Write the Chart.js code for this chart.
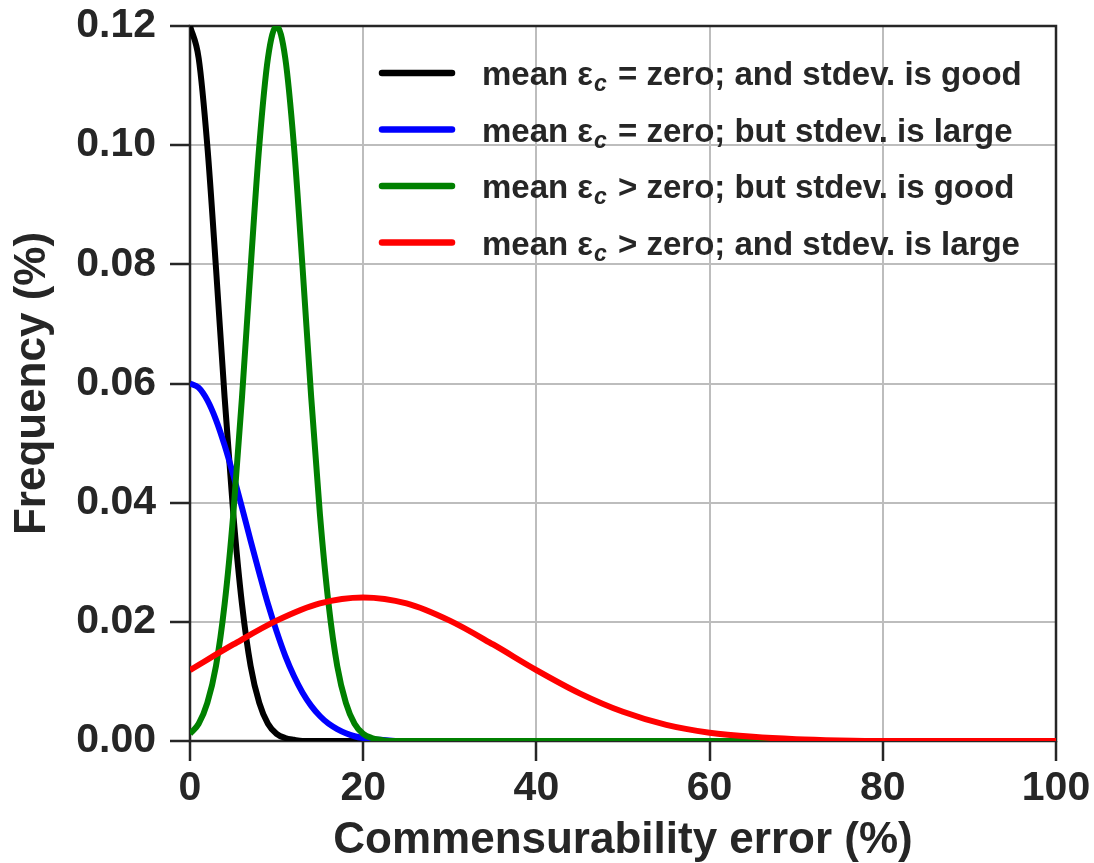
<!DOCTYPE html>
<html>
<head>
<meta charset="utf-8">
<script src="https://cdn.jsdelivr.net/npm/chart.js@4.4.1/dist/chart.umd.min.js"></script>
<style>
  html, body { margin: 0; padding: 0; background: #fff; }
  canvas { display: block; }
</style>
</head>
<body>
<canvas id="errChart" width="1094" height="863"></canvas>
<script>
// Distributions of the commensurability error
// ------------------------------

// x grid shared by the three narrow curves
var gridX = [0, 1, 2, 3, 4, 5, 6, 7, 8, 9, 10, 11, 12, 13, 14, 15, 16, 17, 18, 19,
             20, 21, 22, 23, 24, 25, 30, 40, 50, 60, 70, 80, 90, 100];

var blackY = [0.1200, 0.1146, 0.0999, 0.0794, 0.0576, 0.0381, 0.0230, 0.0126, 0.0064, 0.0029,
              0.0012, 0.0005, 0.0002, 0.0000, 0, 0, 0, 0, 0, 0,
              0, 0, 0, 0, 0, 0, 0, 0, 0, 0, 0, 0, 0, 0];

var blueY = [0.0600, 0.0593, 0.0572, 0.0539, 0.0496, 0.0446, 0.0392, 0.0336, 0.0282, 0.0230,
             0.0184, 0.0143, 0.0109, 0.0081, 0.0059, 0.0042, 0.0029, 0.0020, 0.0013, 0.0008,
             0.0005, 0.0003, 0.0002, 0.0001, 0, 0, 0, 0, 0, 0, 0, 0, 0, 0];

var greenY = [0.0012, 0.0029, 0.0064, 0.0126, 0.0230, 0.0381, 0.0576, 0.0794, 0.0999, 0.1146,
              0.1200, 0.1146, 0.0999, 0.0794, 0.0576, 0.0381, 0.0230, 0.0126, 0.0064, 0.0029,
              0.0012, 0.0005, 0.0002, 0.0000, 0, 0, 0, 0, 0, 0, 0, 0, 0, 0];

// the wide curve is read on a coarser grid
var redX = [0, 5, 10, 15, 20, 25, 30, 35, 40, 45, 50, 55, 60, 65, 70, 75, 80, 85, 90, 95, 100];
var redY = [0.0119, 0.0162, 0.0202, 0.0231, 0.0241, 0.0231, 0.0202, 0.0162, 0.0119, 0.0080,
            0.0049, 0.0027, 0.0014, 0.0007, 0.0003, 0.0001, 0, 0, 0, 0, 0];

var xTicks = [0, 20, 40, 60, 80, 100];
var yTicks = [0.00, 0.02, 0.04, 0.06, 0.08, 0.10, 0.12];

// "_c" marks the subscript
var seriesLabels = [
    "mean \u03b5_c = zero; and stdev. is good",
    "mean \u03b5_c = zero; but stdev. is large",
    "mean \u03b5_c > zero; but stdev. is good",
    "mean \u03b5_c > zero; and stdev. is large"
];
var seriesColors = ['#000000', '#0000ff', '#008000', '#ff0000'];

var FONT = '"Liberation Sans", Arial, sans-serif';
var INK = '#262626';

function pairs(xs, ys) {
    return xs.map(function (x, i) { return { x: x, y: ys[i] }; });
}

// frame round the plot area, and the legend with the subscript
var framePlugin = {
    id: 'frameAndKey',
    beforeDatasetsDraw: function (chart) {
        var a = chart.chartArea, ctx = chart.ctx;
        ctx.save();
        ctx.strokeStyle = INK;
        ctx.lineWidth = 2.5;
        ctx.strokeRect(a.left, a.top, a.right - a.left, a.bottom - a.top);
        ctx.restore();
    },
    afterDraw: function (chart) {
        var ctx = chart.ctx;
        ctx.save();
        seriesLabels.forEach(function (label, i) {
            var y = 73 + i * 56.5;
            ctx.strokeStyle = seriesColors[i];
            ctx.lineWidth = 6.5;
            ctx.lineCap = 'round';
            ctx.beginPath();
            ctx.moveTo(382, y);
            ctx.lineTo(452, y);
            ctx.stroke();

            var parts = label.split('_c');
            var x = 482, base = y + 12;
            ctx.fillStyle = INK;
            ctx.textBaseline = 'alphabetic';
            ctx.textAlign = 'left';
            ctx.font = 'bold 33px ' + FONT;
            ctx.fillText(parts[0], x, base);
            x += ctx.measureText(parts[0]).width + 1;
            ctx.font = 'italic bold 23px ' + FONT;
            ctx.fillText('c', x, base + 6);
            x += ctx.measureText('c').width + 2;
            ctx.font = 'bold 33px ' + FONT;
            ctx.fillText(parts[1], x, base);
        });
        ctx.restore();
    }
};

var ctx = document.getElementById('errChart');

var chartData = {
    datasets: [
        { data: pairs(gridX, blackY), borderColor: seriesColors[0], order: 3 },
        { data: pairs(gridX, blueY), borderColor: seriesColors[1], order: 2 },
        { data: pairs(gridX, greenY), borderColor: seriesColors[2], order: 1 },
        { data: pairs(redX, redY), borderColor: seriesColors[3], order: 0 }
    ]
};
chartData.datasets.forEach(function (ds, i) {
    ds.borderWidth = 6;
    ds.pointRadius = 0;
    ds.fill = false;
    ds.cubicInterpolationMode = 'monotone';
    ds.label = seriesLabels[i];
});

var chartOptions = {
    responsive: false,
    animation: false,
    layout: { padding: { left: 0, right: 38, top: 26, bottom: 0 } },
    plugins: { legend: { display: false }, tooltip: { enabled: false } },
    scales: {
        x: {
            type: 'linear',
            min: 0,
            max: 100,
            afterFit: function (s) { s.height = 122; s.paddingLeft = 0; s.paddingRight = 0; },
            afterBuildTicks: function (s) { s.ticks = xTicks.map(function (v) { return { value: v }; }); },
            grid: { color: '#bdbdbd', lineWidth: 2, tickLength: 20, tickColor: INK, tickWidth: 2.5 },
            border: { display: false },
            ticks: { color: INK, padding: 3, font: { family: FONT, size: 41, weight: 'bold' } },
            title: {
                display: true,
                text: 'Commensurability error (%)',
                color: INK,
                padding: { top: 0, bottom: 0 },
                font: { family: FONT, size: 44, weight: 'bold', lineHeight: 1 }
            }
        },
        y: {
            type: 'linear',
            min: 0,
            max: 0.12,
            afterFit: function (s) { s.width = 190; s.paddingTop = 0; s.paddingBottom = 0; },
            afterBuildTicks: function (s) { s.ticks = yTicks.map(function (v) { return { value: v }; }); },
            grid: { color: '#bdbdbd', lineWidth: 2, tickLength: 20, tickColor: INK, tickWidth: 2.5 },
            border: { display: false },
            ticks: {
                color: INK,
                padding: 14,
                font: { family: FONT, size: 41, weight: 'bold' },
                callback: function (v) { return v.toFixed(2); }
            },
            title: {
                display: true,
                text: 'Frequency (%)',
                color: INK,
                padding: { top: 11, bottom: 0 },
                font: { family: FONT, size: 44, weight: 'bold', lineHeight: 1 }
            }
        }
    }
};

var config = {
    type: 'line',
    data: chartData,
    options: chartOptions,
    plugins: [framePlugin]
};

var errChart = new Chart(ctx, config);
</script>
</body>
</html>
